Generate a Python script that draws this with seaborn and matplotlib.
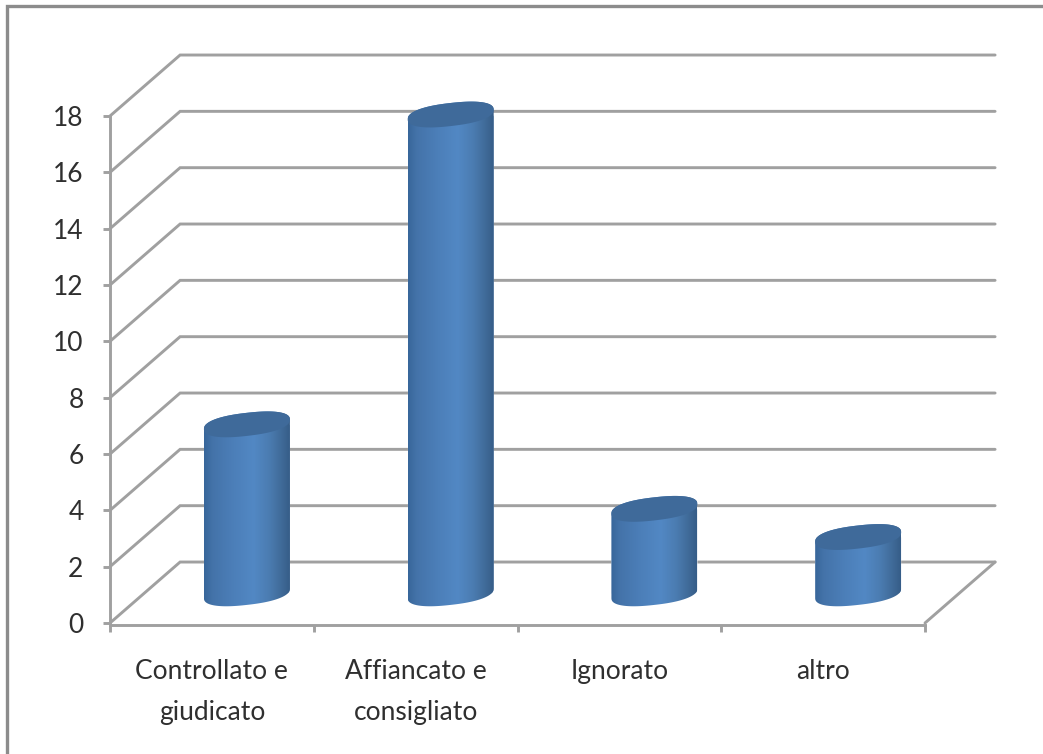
import numpy as np
import matplotlib
matplotlib.use("Agg")
import matplotlib.pyplot as plt
import seaborn as sns
from matplotlib.colors import LinearSegmentedColormap
from matplotlib.lines import Line2D
from matplotlib.patches import PathPatch
from matplotlib.path import Path
from matplotlib.transforms import Affine2D

# Chart data
categories = ["Controllato e\ngiudicato", "Affiancato e\nconsigliato", "Ignorato", "altro"]
values = [6, 17, 3, 2]
y_ticks = [0, 2, 4, 6, 8, 10, 12, 14, 16, 18]

GRAY = "#a0a0a0"
TEXT = "#2f2f2f"
LINE_W = 2.1

# depth of the fake 3d box, in data units
depth_x = 0.344
depth_y = 2.165
bar_width = 0.422
ell_b = 0.41
ell_s = 0.17

sns.set_theme(style="white")
plt.rcParams["font.family"] = ["Lato", "DejaVu Sans"]

fig = plt.figure(figsize=(10.43, 7.54), dpi=100)
ax = fig.add_axes([110 / 1043, 1 - 623 / 754, 815 / 1043, 507 / 754])

sns.barplot(x=categories, y=values, width=bar_width, color="#4f81bd", ax=ax, zorder=3)

# Wall and floor lines
for v in y_ticks:
    ax.plot([-0.5, -0.5 + depth_x, 3.5 + depth_x], [v, v + depth_y, v + depth_y],
            color=GRAY, lw=LINE_W, clip_on=False, zorder=1, solid_joinstyle="miter")
ax.plot([3.5, 3.5 + depth_x], [0, depth_y], color=GRAY, lw=LINE_W, clip_on=False, zorder=1)

# Cylinders on top of the seaborn bars
cmap = LinearSegmentedColormap.from_list(
    "cyl",
    [(0, "#38669a"), (0.1, "#4473a9"), (0.35, "#4c7fb9"), (0.58, "#5288c4"),
     (0.76, "#4b7cb1"), (0.9, "#406b99"), (1, "#365d88")],
)
gradient = np.linspace(0, 1, 256).reshape(1, -1)
shift = Affine2D().translate(depth_x / 2, depth_y / 2 - 0.03) + ax.transData


def rim(cx, a, base, t):
    # tilted, slightly squared ellipse
    c = np.sign(np.cos(t)) * np.abs(np.cos(t)) ** 0.85
    s = np.sign(np.sin(t)) * np.abs(np.sin(t)) ** 0.85
    return cx + a * c, base + ell_s * c + ell_b * s


for patch in ax.patches[:len(values)]:
    x0 = patch.get_x()
    w = patch.get_width()
    h = patch.get_height()
    cx = x0 + w / 2
    a = w / 2

    top_x, top_y = rim(cx, a, h, np.linspace(0, np.pi, 60))
    bot_x, bot_y = rim(cx, a, 0, np.linspace(np.pi, 2 * np.pi, 60))
    body = Path(np.column_stack([np.r_[top_x, bot_x], np.r_[top_y, bot_y]]))

    patch.set_transform(shift)
    patch.set_clip_path(body, shift)
    patch.set_clip_box(fig.bbox)

    im = ax.imshow(gradient, cmap=cmap, aspect="auto", zorder=3.5,
                   extent=[x0, x0 + w, -1, h + 1], transform=shift)
    im.set_clip_path(body, shift)
    im.set_clip_box(fig.bbox)

    cap_x, cap_y = rim(cx, a, h, np.linspace(0, 2 * np.pi, 120))
    cap = Path(np.column_stack([cap_x, cap_y]))
    ax.add_patch(PathPatch(cap, facecolor="#3f6a9a", edgecolor="none",
                           transform=shift, zorder=4, clip_on=False))

ax.set_xlim(-0.5, 3.5)
ax.set_ylim(0, 18)
ax.set_yticks(y_ticks)
ax.set_xticks(np.arange(len(categories)))
ax.set_xticklabels([""] * len(categories))
ax.set_xticks(np.arange(-0.5, 4, 1), minor=True)

ax.tick_params(axis="y", left=True, length=5, width=LINE_W, color=GRAY, pad=14,
               labelsize=19, labelcolor=TEXT)
ax.tick_params(axis="x", which="major", bottom=False, length=0)
ax.tick_params(axis="x", which="minor", bottom=True, length=5, width=LINE_W, color=GRAY)

# Category labels, one annotation per line to get the wide line gap
for i, cat in enumerate(categories):
    for j, line in enumerate(cat.split("\n")):
        ax.annotate(line, xy=(i, 0), xycoords=ax.get_xaxis_transform(),
                    xytext=(0, -40.3 - 29.5 * j), textcoords="offset points",
                    ha="center", va="baseline", fontsize=19, color=TEXT)

sns.despine(ax=ax, top=True, right=True)
for side in ["left", "bottom"]:
    ax.spines[side].set_color(GRAY)
    ax.spines[side].set_linewidth(LINE_W)
ax.spines["bottom"].set_position(("outward", 1.5))

# Outer frame, only top and left are visible in the crop
fig.add_artist(Line2D([7 / 1043, 7 / 1043, 1], [0, 1 - 6 / 754, 1 - 6 / 754],
                      color="#8c8c8c", lw=2.4, solid_joinstyle="miter"))

fig.savefig("out.png", dpi=100)
